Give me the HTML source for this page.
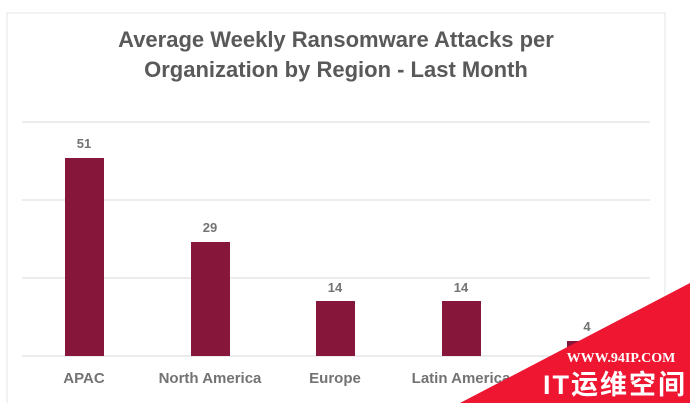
<!DOCTYPE html>
<html><head><meta charset="utf-8"><style>
body{margin:0;width:690px;height:403px;overflow:hidden;background:#fff;font-family:"Liberation Sans","Noto Sans CJK SC",sans-serif;}
</style></head><body>
<svg width="690" height="403" xmlns="http://www.w3.org/2000/svg" style="position:absolute;left:0;top:0">
<rect x="7" y="13" width="658" height="395" fill="#fff" stroke="#e6e6e6"/>
<text x="336" y="47" text-anchor="middle" font-size="22" font-weight="bold" fill="#595959">Average Weekly Ransomware Attacks per</text>
<text x="336" y="77" text-anchor="middle" font-size="22" font-weight="bold" fill="#595959">Organization by Region - Last Month</text>
<g stroke="#d9d9d9" stroke-width="1">
<line x1="22" y1="122" x2="650" y2="122"/>
<line x1="22" y1="200" x2="650" y2="200"/>
<line x1="22" y1="278" x2="650" y2="278"/>
<line x1="22" y1="356" x2="650" y2="356"/>
</g>
<g fill="#86163a">
<rect x="65" y="158" width="39" height="198"/>
<rect x="191" y="242" width="39" height="114"/>
<rect x="316" y="301" width="39" height="55"/>
<rect x="442" y="301" width="39" height="55"/>
<rect x="567" y="341" width="39" height="15"/>
</g>
<g font-size="13" font-weight="bold" fill="#737373" text-anchor="middle">
<text x="84" y="148">51</text>
<text x="210" y="232">29</text>
<text x="335" y="292">14</text>
<text x="461" y="292">14</text>
<text x="587" y="331">4</text>
</g>
<g font-size="15" font-weight="bold" fill="#737373" text-anchor="middle">
<text x="84" y="383">APAC</text>
<text x="210" y="383">North America</text>
<text x="335" y="383">Europe</text>
<text x="461" y="383">Latin America</text>
</g>
<polygon points="460,403 690,283 690,403" fill="#ee1631"/>
<text x="621" y="362" text-anchor="middle" font-family="Liberation Serif,serif" font-size="14" font-weight="bold" fill="#fff">WWW.94IP.COM</text>
<text x="615" y="394" text-anchor="middle" font-size="27" font-weight="bold" fill="#fff" letter-spacing="2">IT运维空间</text>
</svg>
</body></html>
